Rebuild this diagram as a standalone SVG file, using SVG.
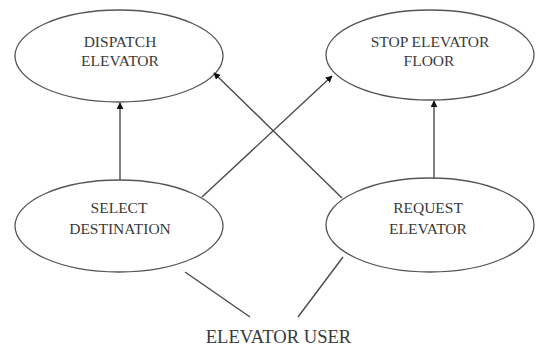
<svg xmlns="http://www.w3.org/2000/svg" width="538" height="347" viewBox="0 0 538 347">
  <style>
    .uc { fill: #ffffff; stroke: #555555; stroke-width: 1.3; }
    .lbl { font-family: "Liberation Serif", "Times New Roman", serif; font-size: 15.5px; fill: #3a3a3a; text-anchor: middle; }
    .actor { font-family: "Liberation Serif", "Times New Roman", serif; font-size: 18.6px; fill: #3a3a3a; text-anchor: middle; }
    .edge { stroke: #4a4a4a; stroke-width: 1.4; fill: none; }
  </style>
  <defs>
    <marker id="arrow" viewBox="0 0 10 10" refX="9" refY="5" markerWidth="7" markerHeight="7" markerUnits="userSpaceOnUse" orient="auto">
      <path d="M0,0 L10,5 L0,10 z" fill="#111111"/>
    </marker>
  </defs>

  <g id="dispatch-elevator">
    <ellipse class="uc" cx="119" cy="56" rx="104" ry="46"/>
    <text class="lbl" x="120" y="47">DISPATCH</text>
    <text class="lbl" x="120" y="65.5">ELEVATOR</text>
  </g>

  <g id="stop-elevator-floor">
    <ellipse class="uc" cx="430" cy="55" rx="104" ry="45"/>
    <text class="lbl" x="430" y="47">STOP ELEVATOR</text>
    <text class="lbl" x="429" y="65.5">FLOOR</text>
  </g>

  <g id="select-destination">
    <ellipse class="uc" cx="119" cy="226" rx="104" ry="46"/>
    <text class="lbl" x="119" y="213">SELECT</text>
    <text class="lbl" x="120" y="233.5">DESTINATION</text>
  </g>

  <g id="request-elevator">
    <ellipse class="uc" cx="430" cy="225" rx="104" ry="47"/>
    <text class="lbl" x="428" y="213">REQUEST</text>
    <text class="lbl" x="428" y="233.5">ELEVATOR</text>
  </g>

  <g id="elevator-user">
    <text class="actor" x="278.5" y="343">ELEVATOR USER</text>
  </g>

  <g id="connectors">
    <line class="edge" x1="120" y1="180" x2="120" y2="103" marker-end="url(#arrow)"/>
    <line class="edge" x1="434" y1="178" x2="434" y2="101" marker-end="url(#arrow)"/>
    <line class="edge" x1="202" y1="197" x2="332" y2="76" marker-end="url(#arrow)"/>
    <line class="edge" x1="342" y1="198" x2="214" y2="73" marker-end="url(#arrow)"/>
    <line class="edge" x1="185" y1="272" x2="250" y2="317"/>
    <line class="edge" x1="343" y1="257" x2="298" y2="317"/>
  </g>
</svg>
